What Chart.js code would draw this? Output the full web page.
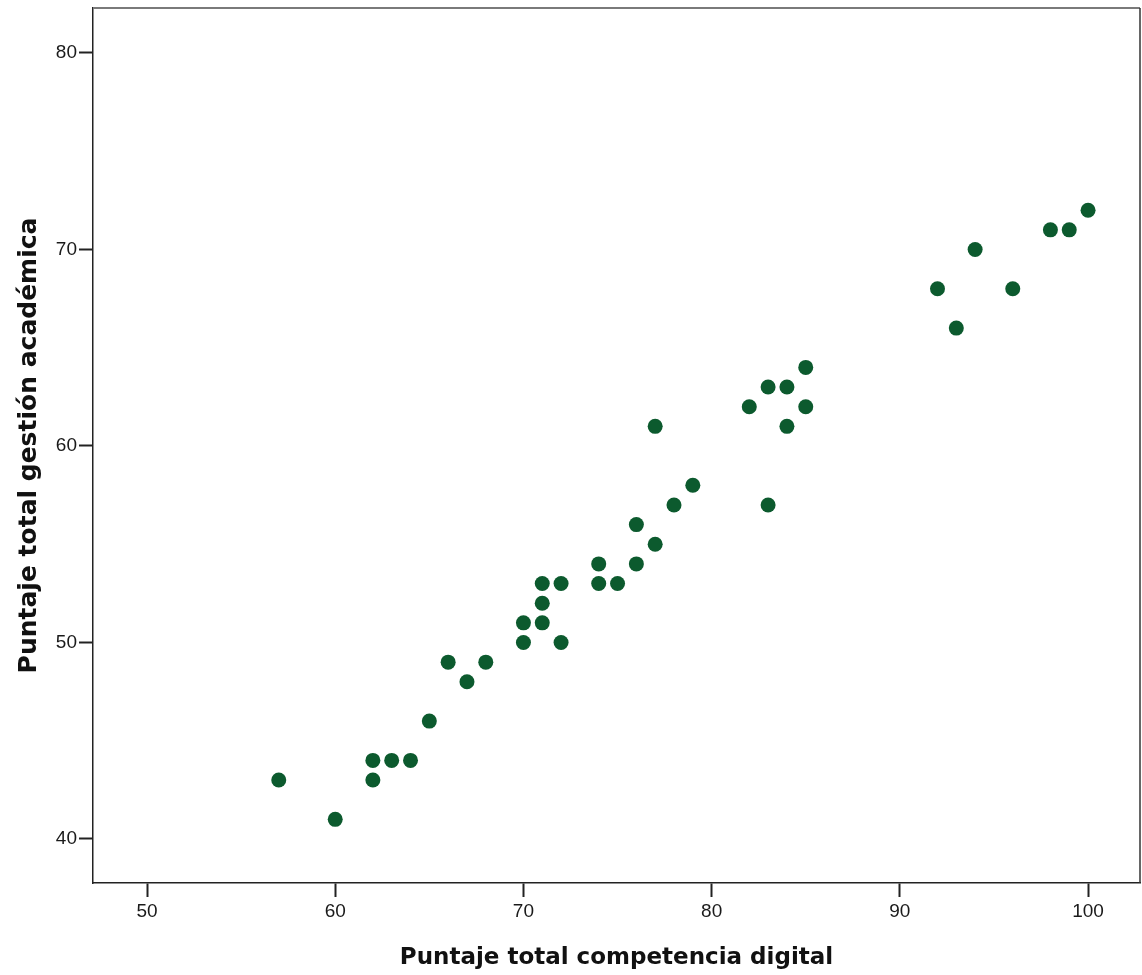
<!DOCTYPE html>
<html>
<head>
<meta charset="utf-8">
<script src="https://cdn.jsdelivr.net/npm/chart.js@4"></script>
<style>
  html, body { margin: 0; padding: 0; background: #ffffff; }
  #wrap { width: 1142px; height: 975px; }
</style>
</head>
<body>
<div id="wrap"><canvas id="c" width="1142" height="975"></canvas></div>
<script>
// Puntaje total competencia digital (x)
const competenciaDigital = [57, 60, 62, 62, 63, 64, 65, 66, 67, 68, 70, 70, 71, 71, 71, 72, 72, 74, 74, 75, 76, 76, 77, 77, 78, 79, 82, 83, 83, 84, 84, 85, 85, 92, 93, 94, 96, 98, 99, 100];
// Puntaje total gestión académica (y)
const gestionAcademica = [43, 41, 44, 43, 44, 44, 46, 49, 48, 49, 51, 50, 53, 52, 51, 53, 50, 54, 53, 53, 56, 54, 61, 55, 57, 58, 62, 63, 57, 63, 61, 64, 62, 68, 66, 70, 68, 71, 71, 72];
const xTicks = [50, 60, 70, 80, 90, 100];
const yTicks = [40, 50, 60, 70, 80];
const xTitle = 'Puntaje total competencia digital';
const yTitle = 'Puntaje total gestión académica';

const points = competenciaDigital.map((x, i) => ({ x: x, y: gestionAcademica[i] }));

const framePlugin = {
  id: 'frame',
  afterDraw(chart) {
    const { ctx, chartArea: a } = chart;
    ctx.save();
    ctx.lineWidth = 2;
    ctx.strokeStyle = '#7a7a7a';
    ctx.beginPath();
    ctx.moveTo(a.left, a.top);
    ctx.lineTo(a.right, a.top);
    ctx.stroke();
    ctx.lineWidth = 1.5;
    ctx.strokeStyle = '#333333';
    ctx.beginPath();
    ctx.moveTo(a.right, a.top);
    ctx.lineTo(a.right, a.bottom);
    ctx.stroke();
    ctx.restore();
  }
};

new Chart(document.getElementById('c'), {
  type: 'scatter',
  data: {
    datasets: [{
      data: points,
      backgroundColor: '#0c5a2e',
      borderColor: '#0c5a2e',
      borderWidth: 0,
      pointRadius: 7.5,
      pointHoverRadius: 7.5
    }]
  },
  options: {
    responsive: false,
    animation: false,
    layout: { autoPadding: false, padding: { top: 8, right: 2, left: 0, bottom: 0 } },
    plugins: { legend: { display: false }, tooltip: { enabled: false } },
    scales: {
      x: {
        type: 'linear',
        min: 47.13,
        max: 102.76,
        afterBuildTicks(scale) { scale.ticks = xTicks.map(v => ({ value: v })); },
        afterFit(scale) { scale.height = 92; scale.paddingLeft = 0; scale.paddingRight = 0; },
        ticks: {
          color: '#1a1a1a',
          font: { family: 'Liberation Sans, Arial, sans-serif', size: 19 },
          padding: 3
        },
        grid: {
          drawOnChartArea: false,
          drawTicks: true,
          tickLength: 14,
          tickWidth: 2,
          tickColor: '#222222'
        },
        border: { display: true, color: '#222222', width: 1.5 },
        title: {
          display: true,
          text: xTitle,
          color: '#111111',
          font: { family: 'DejaVu Sans, sans-serif', size: 23, weight: 'bold' },
          padding: { top: 0, bottom: 3 }
        }
      },
      y: {
        type: 'linear',
        min: 37.76,
        max: 82.29,
        afterBuildTicks(scale) { scale.ticks = yTicks.map(v => ({ value: v })); },
        afterFit(scale) { scale.width = 93; scale.paddingTop = 0; scale.paddingBottom = 0; },
        ticks: {
          color: '#1a1a1a',
          font: { family: 'Liberation Sans, Arial, sans-serif', size: 19 },
          padding: 2
        },
        grid: {
          drawOnChartArea: false,
          drawTicks: true,
          tickLength: 14,
          tickWidth: 2,
          tickColor: '#222222'
        },
        border: { display: true, color: '#222222', width: 1.5 },
        title: {
          display: true,
          text: yTitle,
          color: '#111111',
          font: { family: 'DejaVu Sans, sans-serif', size: 25, weight: 'bold' },
          padding: { top: 14, bottom: 0 }
        }
      }
    }
  },
  plugins: [framePlugin]
});
</script>
</body>
</html>
